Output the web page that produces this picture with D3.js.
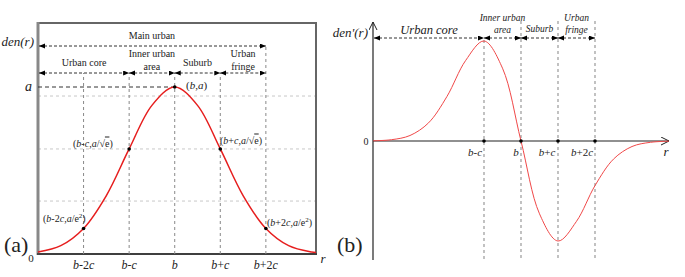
<!DOCTYPE html>
<html>
<head>
<meta charset="utf-8">
<script src="https://cdn.jsdelivr.net/npm/d3@7"></script>
<style>
  body { margin: 0; background: #fff; }
</style>
</head>
<body>
<script>
'use strict';
// (a) den(r)/a, read every c/2 along r (b = 3c)
const rA = [0, 0.5, 1, 1.5, 2, 2.5, 3, 3.5, 4, 4.5, 5, 5.5, 6, 6.1];
const denA = [0.012, 0.05, 0.153, 0.35, 0.629, 0.89, 1, 0.89, 0.629, 0.35, 0.153, 0.05, 0.012, 0.009];
const markA = [1, 2, 3, 4, 5];
const tickA = ['b-2c', 'b-c', 'b', 'b+c', 'b+2c'];
const gridA = [0.317, 0.629, 0.946];
const zoneEdgesA = [0, 2, 3, 4, 5];
const zonesA = [['Urban core'], ['Inner urban', 'area'], ['Suburb'], ['Urban', 'fringe']];

// (b) den'(r), normalised to its peak (b = 4c)
const rB = [0, 0.5, 1, 1.5, 2, 2.5, 3, 3.5, 4, 4.5, 5, 5.5, 6, 6.5, 7, 7.5, 8];
const denB = [0.002, 0.013, 0.055, 0.181, 0.446, 0.803, 1, 0.728, 0, -0.728, -1, -0.803, -0.446, -0.181, -0.055, -0.013, -0.002];
const markB = [3, 4, 5, 6];
const tickB = ['b-c', 'b', 'b+c', 'b+2c'];
const zoneEdgesB = [0, 3, 4, 5, 6];
const zonesB = [['Urban core'], ['Inner urban', 'area'], ['Suburb'], ['Urban', 'fringe']];

const svg = d3.select(document.body).append('svg')
  .attr('width', 685).attr('height', 277)
  .attr('font-family', "'Liberation Serif', 'Times New Roman', serif")
  .attr('fill', '#222');

// arrow heads
const defs = svg.append('defs');
defs.append('marker').attr('id', 'head')
  .attr('markerUnits', 'userSpaceOnUse')
  .attr('markerWidth', 7).attr('markerHeight', 6)
  .attr('refX', 6).attr('refY', 2.5)
  .attr('orient', 'auto-start-reverse')
  .append('path').attr('d', 'M0,0 L6,2.5 L0,5 Z').attr('fill', '#000');
defs.append('marker').attr('id', 'open')
  .attr('markerUnits', 'userSpaceOnUse')
  .attr('markerWidth', 10).attr('markerHeight', 10)
  .attr('refX', 8).attr('refY', 4)
  .attr('orient', 'auto')
  .append('path').attr('d', 'M0,0 L8,4 L0,8').attr('fill', 'none')
  .attr('stroke', '#222').attr('stroke-width', 1);

// rich text helper: parts = [[text, italic, overline]]
function richText(g, x, y, parts, size, anchor) {
  const t = g.append('text').attr('x', x).attr('y', y)
    .attr('font-size', size).attr('text-anchor', anchor || 'start');
  parts.forEach(function(p) {
    const s = t.append('tspan').text(p[0]);
    if (p[1]) s.attr('font-style', 'italic');
    if (p[2]) s.attr('text-decoration', 'overline');
  });
  return t;
}
function splitItalic(t) {
  const parts = [];
  t.replace(/([a-z]+)|([^a-z]+)/g, function(m, a) { parts.push([m, !!a]); });
  return parts;
}

// ---------------- panel (a) ----------------
const xA = d3.scaleLinear().domain([0, 6.1]).range([38, 316]);
const yA = d3.scaleLinear().domain([0, 1]).range([254, 87]);
const gA = svg.append('g');

gA.selectAll('line.grid').data(gridA).enter().append('line')
  .attr('x1', xA(0)).attr('x2', xA(6.1))
  .attr('y1', d => yA(d)).attr('y2', d => yA(d))
  .attr('stroke', '#c8c8c8').attr('stroke-dasharray', '3,3').attr('stroke-width', 1);

gA.append('rect').attr('x', 38).attr('y', 23).attr('width', 278).attr('height', 231)
  .attr('fill', 'none').attr('stroke', '#666').attr('stroke-width', 2);
gA.append('line').attr('x1', 38).attr('x2', 38).attr('y1', 22).attr('y2', 255)
  .attr('stroke', '#888').attr('stroke-width', 3);
gA.append('line').attr('x1', 37).attr('x2', 317).attr('y1', 254).attr('y2', 254)
  .attr('stroke', '#333').attr('stroke-width', 1.5);

// vertical guides
gA.selectAll('line.v').data(markA).enter().append('line')
  .attr('x1', d => xA(d)).attr('x2', d => xA(d))
  .attr('y1', 254).attr('y2', d => d === 5 ? 44 : 73)
  .attr('stroke', '#888').attr('stroke-dasharray', '3,3').attr('stroke-width', 1);

// a level
gA.append('line').attr('x1', 38).attr('x2', xA(3)).attr('y1', yA(1)).attr('y2', yA(1))
  .attr('stroke', '#333').attr('stroke-dasharray', '4,3').attr('stroke-width', 1);

// zone arrows
gA.append('line').attr('x1', xA(0) + 1).attr('x2', xA(5)).attr('y1', 46).attr('y2', 46)
  .attr('stroke', '#333').attr('stroke-dasharray', '3,2').attr('stroke-width', 1)
  .attr('marker-start', 'url(#head)').attr('marker-end', 'url(#head)');
gA.append('text').attr('x', (xA(0) + xA(5)) / 2).attr('y', 38.5)
  .attr('text-anchor', 'middle').attr('font-size', 10).text('Main urban');

zonesA.forEach(function(z, i) {
  const x0 = xA(zoneEdgesA[i]) + (i === 0 ? 1 : 0), x1 = xA(zoneEdgesA[i + 1]);
  gA.append('line').attr('x1', x0).attr('x2', x1).attr('y1', 73).attr('y2', 73)
    .attr('stroke', '#333').attr('stroke-dasharray', '3,2').attr('stroke-width', 1)
    .attr('marker-start', 'url(#head)').attr('marker-end', 'url(#head)');
  const cx = (x0 + x1) / 2;
  z.forEach(function(s, j) {
    const y = z.length === 1 ? 65.5 : 56.5 + j * 13;
    gA.append('text').attr('x', cx).attr('y', y).attr('text-anchor', 'middle')
      .attr('font-size', 10).text(s);
  });
});

// curve
gA.append('path').datum(rA.map((r, i) => [r, denA[i]]))
  .attr('d', d3.line().x(d => xA(d[0])).y(d => yA(d[1])).curve(d3.curveCatmullRom))
  .attr('fill', 'none').attr('stroke', '#e61e1e').attr('stroke-width', 1.5);

gA.selectAll('circle').data(markA).enter().append('circle')
  .attr('cx', d => xA(d)).attr('cy', d => yA(denA[rA.indexOf(d)])).attr('r', 1.8)
  .attr('fill', '#000');

// labels
richText(gA, 34, 46, [['den(r)', true]], 13, 'end');
richText(gA, 32, 91, [['a', true]], 14, 'end');
gA.append('text').attr('x', 31).attr('y', 262).attr('font-size', 11).attr('text-anchor', 'middle').text('0');
richText(gA, 323, 263, [['r', true]], 13, 'middle');
tickA.forEach(function(t, i) {
  richText(gA, xA(markA[i]), 269, splitItalic(t), 12, 'middle');
});
gA.append('text').attr('x', 4).attr('y', 252).attr('font-size', 22).text('(a)');

richText(gA, 186, 88.5, [['('], ['b', true], [','], ['a', true], [')']], 11);
richText(gA, 73, 146.5, [['('], ['b', true], ['-'], ['c', true], [','], ['a', true], ['/\u221A'], ['e', false, true], [')']], 10);
richText(gA, 220, 143.5, [['('], ['b', true], ['+'], ['c', true], [','], ['a', true], ['/\u221A'], ['e', false, true], [')']], 10);
const e2a = richText(gA, 43, 221.5, [['('], ['b', true], ['-2'], ['c', true], [','], ['a', true], ['/e']], 10);
e2a.append('tspan').attr('dy', -4).attr('font-size', 7).text('2');
e2a.append('tspan').attr('dy', 4).text(')');
const e2b = richText(gA, 267, 225.5, [['('], ['b', true], ['+2'], ['c', true], [','], ['a', true], ['/e']], 10);
e2b.append('tspan').attr('dy', -4).attr('font-size', 7).text('2');
e2b.append('tspan').attr('dy', 4).text(')');

// ---------------- panel (b) ----------------
const xB = d3.scaleLinear().domain([0, 8]).range([373, 669]);
const yB = d3.scaleLinear().domain([-1, 1]).range([241, 41]);
const gB = svg.append('g');

gB.selectAll('line.v').data(markB).enter().append('line')
  .attr('x1', d => xB(d)).attr('x2', d => xB(d))
  .attr('y1', (d, i) => i === 0 ? 40 : 21).attr('y2', 260)
  .attr('stroke', '#999').attr('stroke-dasharray', '3,3').attr('stroke-width', 1.2);

gB.append('line').attr('x1', xB(0)).attr('x2', xB(0)).attr('y1', 260).attr('y2', 22)
  .attr('stroke', '#222').attr('stroke-width', 1.2).attr('marker-end', 'url(#open)');
gB.append('line').attr('x1', xB(0)).attr('x2', 669).attr('y1', yB(0)).attr('y2', yB(0))
  .attr('stroke', '#222').attr('stroke-width', 1.2).attr('marker-end', 'url(#open)');

zonesB.forEach(function(z, i) {
  const x0 = xB(zoneEdgesB[i]) + (i === 0 ? 1 : 0), x1 = xB(zoneEdgesB[i + 1]);
  gB.append('line').attr('x1', x0).attr('x2', x1).attr('y1', 38).attr('y2', 38)
    .attr('stroke', '#333').attr('stroke-dasharray', '3,2').attr('stroke-width', 1)
    .attr('marker-start', 'url(#head)').attr('marker-end', 'url(#head)');
  const cx = (x0 + x1) / 2;
  z.forEach(function(s, j) {
    const big = i === 0;
    const y = z.length === 1 ? (big ? 34 : 32) : 21 + j * 12;
    gB.append('text').attr('x', cx).attr('y', y).attr('text-anchor', 'middle')
      .attr('font-style', 'italic').attr('font-size', big ? 12.5 : 9.5).text(s);
  });
});

gB.append('path').datum(rB.map((r, i) => [r, denB[i]]))
  .attr('d', d3.line().x(d => xB(d[0])).y(d => yB(d[1])).curve(d3.curveCatmullRom))
  .attr('fill', 'none').attr('stroke', '#f04848').attr('stroke-width', 1);

gB.selectAll('circle').data(markB).enter().append('circle')
  .attr('cx', d => xB(d)).attr('cy', yB(0)).attr('r', 1.8).attr('fill', '#000');

richText(gB, 368, 37, [['den\'(r)', true]], 13, 'end');
gB.append('text').attr('x', 366).attr('y', yB(0) + 4).attr('font-size', 10).attr('text-anchor', 'middle').text('0');
richText(gB, 666, 156, [['r', true]], 13, 'middle');
const tickOffB = [-9, -5, -11, -13];
tickB.forEach(function(t, i) {
  richText(gB, xB(markB[i]) + tickOffB[i], 156, splitItalic(t), 11, 'middle');
});
gB.append('text').attr('x', 337).attr('y', 252).attr('font-size', 22).text('(b)');
</script>
</body>
</html>
